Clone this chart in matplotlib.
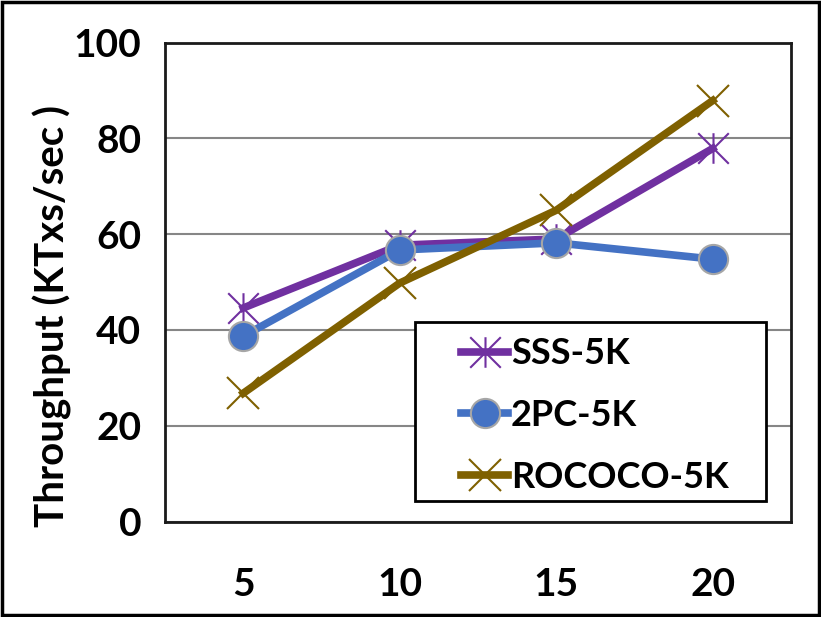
import numpy as np
import matplotlib.pyplot as plt
from matplotlib.path import Path
from matplotlib.patches import Rectangle

# values
clients = ['5', '10', '15', '20']
sss = [44.6, 57.7, 59.0, 77.9]
twopc = [38.7, 56.7, 58.2, 54.8]
rococo = [26.8, 49.8, 65.0, 87.9]

plt.rcParams['font.family'] = ['Lato', 'DejaVu Sans']
plt.rcParams['font.weight'] = 'bold'
plt.rcParams['axes.labelweight'] = 'bold'

# excel style asterisk: an x plus a vertical bar
star = Path([(-1, -1), (1, 1), (-1, 1), (1, -1), (0, -1), (0, 1)],
            [Path.MOVETO, Path.LINETO, Path.MOVETO, Path.LINETO, Path.MOVETO, Path.LINETO])

fig = plt.figure(figsize=(8.21, 6.17), dpi=100)
ax = fig.add_axes([165/821, (617-521.6)/617, (791-165)/821, (521.6-42.6)/617])

x = np.arange(len(clients))
ax.plot(x, sss, color='#7030A0', lw=5.5, marker=star, ms=22,
        mec='#7030A0', mew=1.5, label='SSS-5K', zorder=3)
ax.plot(x, twopc, color='#4472C4', lw=5.5, marker='o', ms=21,
        mfc='#4472C4', mec='#A6A6A6', mew=1.5, label='2PC-5K', zorder=4)
ax.plot(x, rococo, color='#7F6000', lw=5.5, marker='x', ms=23,
        mec='#7F6000', mew=1.5, label='ROCOCO-5K', zorder=5)

ax.set_xlim(-0.5, 3.5)
ax.set_ylim(0, 100)
ax.set_yticks([0, 20, 40, 60, 80, 100])
ax.set_xticks(x)
ax.set_xticklabels(clients)
ax.yaxis.grid(True, color='#868686', lw=1.5)
ax.set_axisbelow(True)
ax.tick_params(length=0, labelsize=28)
ax.tick_params(axis='y', pad=17)
ax.tick_params(axis='x', pad=33)
for s in ax.spines.values():
    s.set_linewidth(2)
    s.set_color('#1a1a1a')

ax.set_ylabel('Throughput (KTxs/sec )', fontsize=29)
ax.yaxis.set_label_coords(-0.148, 0.43)

# legend box drawn by hand, legend entries placed inside it
ax.add_patch(Rectangle((0.399, 0.043), 0.561, 0.374, transform=ax.transAxes,
                       facecolor='white', edgecolor='black', lw=2, zorder=6))
leg = ax.legend(loc='upper left', bbox_to_anchor=(0.473, 0.385), fontsize=26,
                frameon=False, handlelength=1.3, handletextpad=0.08,
                borderpad=0, labelspacing=0.8, borderaxespad=0)
leg.set_zorder(7)

# border around the whole picture
fig.patches.append(Rectangle((0.002, 0.003), 0.996, 0.994, transform=fig.transFigure,
                             fill=False, edgecolor='black', lw=2.5))

plt.savefig('out.png', dpi=100)
